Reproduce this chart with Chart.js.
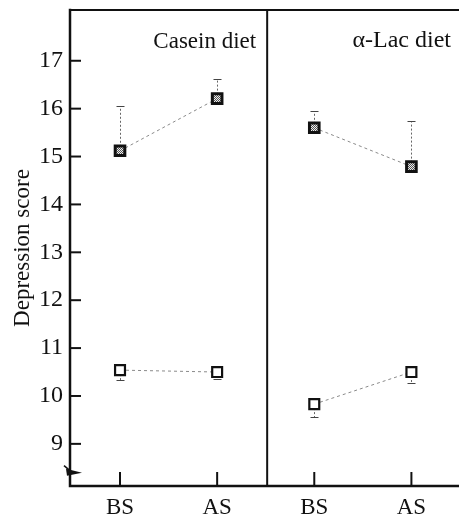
<!DOCTYPE html>
<html>
<head>
<meta charset="utf-8">
<script src="https://cdn.jsdelivr.net/npm/chart.js@4.4.1/dist/chart.umd.min.js"></script>
<style>
  html, body { margin: 0; padding: 0; background: #fff; }
</style>
</head>
<body>
<canvas id="depChart" width="459" height="519"></canvas>
<script>
// x axis: two panels, each with BS / AS
const categories = ['BS', 'AS', 'BS', 'AS'];
const panelTitles = ['Casein diet', 'α-Lac diet'];
const yTicks = [9, 10, 11, 12, 13, 14, 15, 16, 17];

// filled squares (upper group), error bar drawn upward
const caseinFilled = [15.12, 16.21];
const caseinFilledErr = [0.93, 0.41];
const lacFilled = [15.60, 14.79];
const lacFilledErr = [0.35, 0.95];

// open squares (lower group), error bar drawn downward
const caseinOpen = [10.54, 10.50];
const caseinOpenErr = [0.21, 0.14];
const lacOpen = [9.83, 10.50];
const lacOpenErr = [0.27, 0.22];

const serif = "'Liberation Serif', 'DejaVu Serif', serif";
const ink = '#111';

// dotted grey fill for the filled squares
function makePattern() {
    const c = document.createElement('canvas');
    c.width = 2; c.height = 2;
    const g = c.getContext('2d');
    g.fillStyle = '#eee'; g.fillRect(0, 0, 2, 2);
    g.fillStyle = '#555'; g.fillRect(0, 0, 1, 1); g.fillRect(1, 1, 1, 1);
    return g.createPattern(c, 'repeat');
}
const hatch = makePattern();

function pts(values, offset) {
    return values.map((v, i) => ({ x: i + offset, y: v }));
}

function series(values, errs, offset, filled) {
    return {
        data: pts(values, offset),
        errs: errs,
        errDir: filled ? 1 : -1,
        showLine: true,
        borderColor: '#8a8a8a',
        borderWidth: 1,
        borderDash: [3, 3],
        pointStyle: 'rect',
        pointRadius: filled ? 6.8 : 7,
        pointBorderWidth: filled ? 3 : 2.2,
        pointBorderColor: ink,
        pointBackgroundColor: filled ? hatch : '#fff'
    };
}

const dividerAt = 1.515;

// error bars, drawn under the markers
const errorBars = {
    id: 'errorBars',
    beforeDatasetsDraw(chart) {
        const ctx = chart.ctx, xs = chart.scales.x, ys = chart.scales.y;
        chart.data.datasets.forEach(ds => {
            ds.data.forEach((p, i) => {
                const x = Math.round(xs.getPixelForValue(p.x)) + 0.5;
                const y0 = ys.getPixelForValue(p.y);
                const y1 = Math.round(ys.getPixelForValue(p.y + ds.errDir * ds.errs[i])) + 0.5;
                ctx.save();
                ctx.strokeStyle = '#666';
                ctx.lineWidth = 1;
                ctx.setLineDash([2, 2]);
                ctx.beginPath(); ctx.moveTo(x, y0); ctx.lineTo(x, y1); ctx.stroke();
                ctx.setLineDash([]);
                ctx.strokeStyle = '#444';
                ctx.beginPath(); ctx.moveTo(x - 4, y1); ctx.lineTo(x + 4, y1); ctx.stroke();
                ctx.restore();
            });
        });
    }
};

// frame, inner tick marks, axis break and panel titles
const frame = {
    id: 'frame',
    afterDraw(chart) {
        const ctx = chart.ctx, a = chart.chartArea;
        const xs = chart.scales.x, ys = chart.scales.y;
        ctx.save();
        ctx.strokeStyle = ink;
        ctx.lineCap = 'square';

        ctx.lineWidth = 2.5;
        ctx.beginPath();
        ctx.moveTo(a.left, a.top); ctx.lineTo(a.left, a.bottom); ctx.lineTo(a.right, a.bottom);
        ctx.stroke();

        ctx.lineWidth = 2;
        ctx.beginPath(); ctx.moveTo(a.left, a.top); ctx.lineTo(a.right, a.top); ctx.stroke();
        const dx = xs.getPixelForValue(dividerAt);
        ctx.beginPath(); ctx.moveTo(dx, a.top); ctx.lineTo(dx, a.bottom); ctx.stroke();

        ctx.lineCap = 'butt';
        yTicks.forEach(v => {
            const y = ys.getPixelForValue(v);
            ctx.beginPath(); ctx.moveTo(a.left, y); ctx.lineTo(a.left + 11, y); ctx.stroke();
        });
        categories.forEach((c, i) => {
            const x = xs.getPixelForValue(i);
            ctx.beginPath(); ctx.moveTo(x, a.bottom); ctx.lineTo(x, a.bottom - 14); ctx.stroke();
        });

        // axis break mark
        const by = ys.getPixelForValue(8.42);
        ctx.fillStyle = ink;
        ctx.lineWidth = 1.5;
        ctx.beginPath(); ctx.moveTo(a.left - 6, by - 6); ctx.lineTo(a.left, by - 1); ctx.stroke();
        ctx.beginPath();
        ctx.moveTo(a.left - 4, by - 3); ctx.lineTo(a.left + 12, by + 1); ctx.lineTo(a.left - 3, by + 4);
        ctx.closePath(); ctx.fill();

        // panel titles
        ctx.font = '23px ' + serif;
        ctx.textAlign = 'right';
        ctx.textBaseline = 'alphabetic';
        ctx.fillText(panelTitles[0], dx - 11, a.top + 38);
        ctx.font = '24px ' + serif;
        ctx.fillText(panelTitles[1], a.right - 8, a.top + 37);
        ctx.restore();
    }
};

new Chart(document.getElementById('depChart').getContext('2d'), {
    type: 'scatter',
    data: {
        datasets: [
            series(caseinFilled, caseinFilledErr, 0, true),
            series(caseinOpen, caseinOpenErr, 0, false),
            series(lacFilled, lacFilledErr, 2, true),
            series(lacOpen, lacOpenErr, 2, false)
        ]
    },
    options: {
        responsive: false,
        animation: false,
        layout: { autoPadding: false, padding: { top: 10, right: 0, left: 0, bottom: 0 } },
        plugins: { legend: { display: false }, tooltip: { enabled: false } },
        scales: {
            x: {
                type: 'linear',
                min: -0.515,
                max: 3.49,
                afterBuildTicks: s => { s.ticks = categories.map((c, i) => ({ value: i })); },
                afterFit: s => { s.height = 33; s.paddingLeft = 0; s.paddingRight = 0; },
                grid: { display: false, drawTicks: false },
                border: { display: false },
                ticks: {
                    autoSkip: false,
                    maxRotation: 0,
                    padding: 8,
                    color: ink,
                    font: { family: serif, size: 23 },
                    callback: v => categories[v]
                }
            },
            y: {
                min: 8.12,
                max: 18.06,
                afterBuildTicks: s => { s.ticks = yTicks.map(v => ({ value: v })); },
                afterFit: s => { s.width = 70; s.paddingTop = 0; s.paddingBottom = 0; },
                grid: { display: false, drawTicks: false },
                border: { display: false },
                ticks: {
                    autoSkip: false,
                    padding: 7,
                    color: ink,
                    font: { family: serif, size: 24 }
                },
                title: {
                    display: true,
                    text: 'Depression score',
                    color: ink,
                    padding: { top: 9, bottom: 0 },
                    font: { family: serif, size: 23 }
                }
            }
        }
    },
    plugins: [errorBars, frame]
});
</script>
</body>
</html>
